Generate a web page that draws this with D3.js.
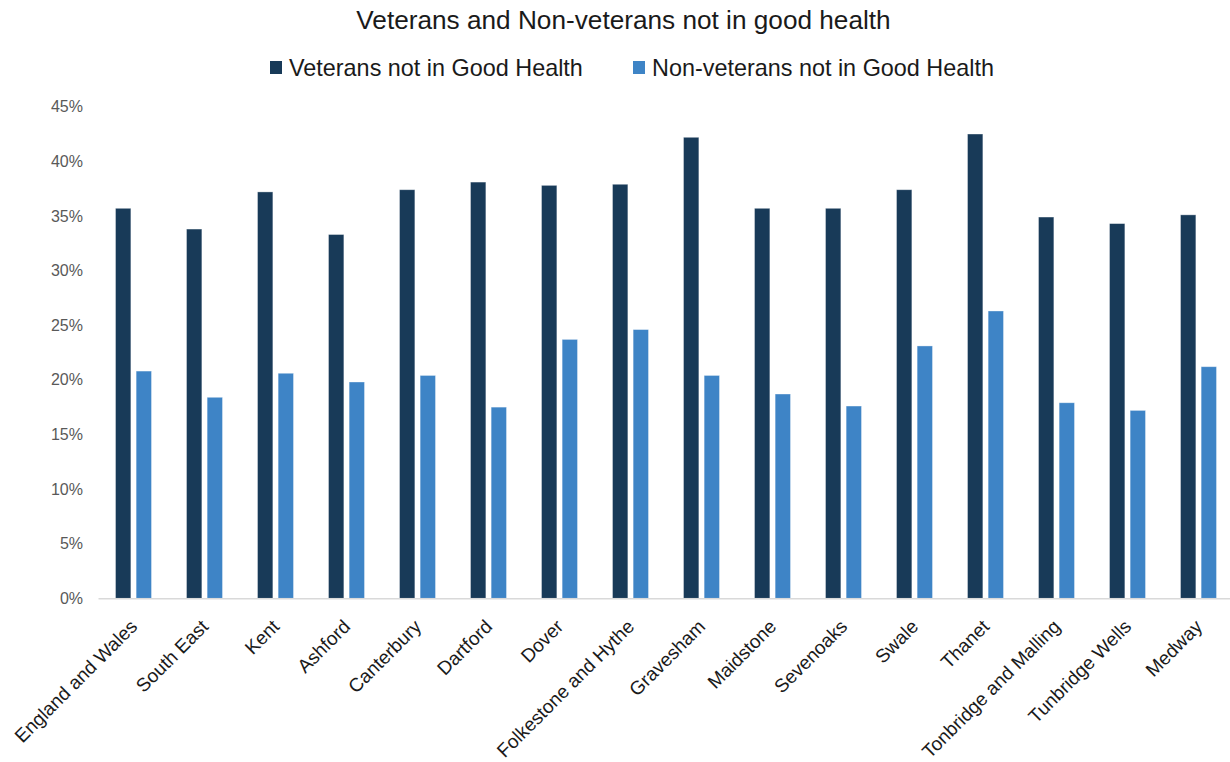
<!DOCTYPE html>
<html>
<head>
<meta charset="utf-8">
<script src="https://cdn.jsdelivr.net/npm/d3@7"></script>
<style>
  html, body { margin: 0; padding: 0; background: #fff; }
  svg { display: block; font-family: "Liberation Sans", Arial, sans-serif; }
</style>
</head>
<body>
<svg id="chart" width="1230" height="762"></svg>
<script>
const categories = ["England and Wales", "South East", "Kent", "Ashford", "Canterbury", "Dartford", "Dover", "Folkestone and Hythe", "Gravesham", "Maidstone", "Sevenoaks", "Swale", "Thanet", "Tonbridge and Malling", "Tunbridge Wells", "Medway"];
const veterans = [35.7, 33.8, 37.2, 33.3, 37.4, 38.1, 37.8, 37.9, 42.2, 35.7, 35.7, 37.4, 42.5, 34.9, 34.3, 35.1];
const nonVeterans = [20.8, 18.4, 20.6, 19.8, 20.4, 17.5, 23.7, 24.6, 20.4, 18.7, 17.6, 23.1, 26.3, 17.9, 17.2, 21.2];
const seriesNames = ["Veterans not in Good Health", "Non-veterans not in Good Health"];
const seriesColors = ["#183A58", "#3E84C6"];
const yTicks = [0, 5, 10, 15, 20, 25, 30, 35, 40, 45];
const title = "Veterans and Non-veterans not in good health";

const svg = d3.select("#chart");
const plot = { left: 98, right: 1234, top: 106.7, bottom: 598.3 };

const x = d3.scaleBand().domain(categories).range([plot.left, plot.right]).paddingInner(0).paddingOuter(0);
const xSub = d3.scaleBand().domain([0, 1]).range([17.5, x.bandwidth() - 17.5]).paddingInner(0.255);
const y = d3.scaleLinear().domain([0, 45]).range([plot.bottom, plot.top]);

// Title
svg.append("text")
  .attr("x", 623.5).attr("y", 29)
  .attr("text-anchor", "middle")
  .attr("font-size", 26.2)
  .attr("fill", "#1a1a1a")
  .text(title);

// Legend
const legendItems = [
  { name: seriesNames[0], color: seriesColors[0], x: 270 },
  { name: seriesNames[1], color: seriesColors[1], x: 633 }
];
const lg = svg.append("g");
legendItems.forEach(d => {
  lg.append("rect").attr("x", d.x).attr("y", 61).attr("width", 12).attr("height", 13).attr("fill", d.color);
  lg.append("text").attr("x", d.x + 19).attr("y", 76).attr("font-size", 23.4).attr("fill", "#1a1a1a").text(d.name);
});

// Y axis (labels only)
const yAxis = d3.axisLeft(y).tickValues(yTicks).tickFormat(d => d + "%").tickSize(0).tickPadding(15);
const gy = svg.append("g").attr("transform", `translate(${plot.left},0)`).call(yAxis);
gy.select(".domain").remove();
gy.selectAll("text").attr("font-size", 16).attr("fill", "#595959").attr("font-family", "Liberation Sans, Arial, sans-serif");

// Bars
const groups = svg.append("g").selectAll("g")
  .data(categories.map((c, i) => ({ c, vals: [veterans[i], nonVeterans[i]] })))
  .join("g")
  .attr("transform", d => `translate(${x(d.c)},0)`);

groups.selectAll("rect")
  .data(d => d.vals.map((v, k) => ({ v, k })))
  .join("rect")
  .attr("x", d => xSub(d.k))
  .attr("width", xSub.bandwidth())
  .attr("y", d => y(d.v))
  .attr("height", d => y(0) - y(d.v))
  .attr("fill", d => seriesColors[d.k])
  .attr("stroke", "rgba(255,255,255,0.45)")
  .attr("stroke-width", 0.8);

// X axis
const xAxis = d3.axisBottom(x).tickSize(0).tickPadding(0);
const gx = svg.append("g").attr("transform", `translate(0,${plot.bottom})`).call(xAxis);
gx.select(".domain").attr("stroke", "#d9d9d9").attr("stroke-width", 1.5);
gx.selectAll("text")
  .attr("font-size", 19)
  .attr("fill", "#1a1a1a")
  .attr("font-family", "Liberation Sans, Arial, sans-serif")
  .attr("text-anchor", "end")
  .attr("dy", 0)
  .attr("y", 0)
  .attr("transform", "translate(5,29.5) rotate(-45)");
</script>
</body>
</html>
